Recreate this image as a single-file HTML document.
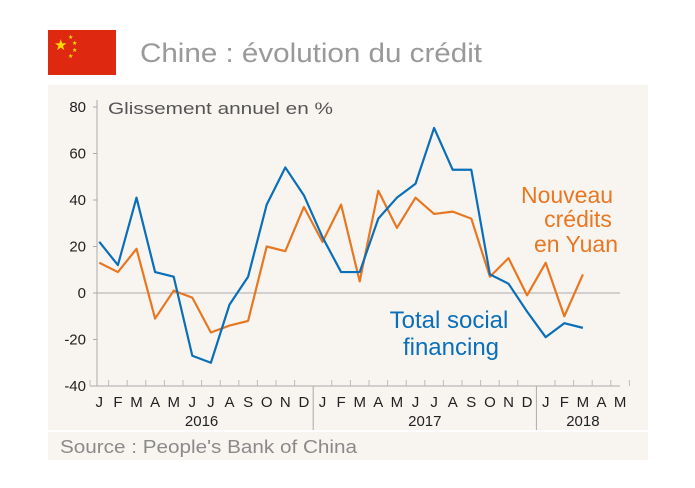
<!DOCTYPE html>
<html><head><meta charset="utf-8"><style>
body{margin:0;background:#fff;width:695px;height:483px;overflow:hidden;font-family:"Liberation Sans",sans-serif}
</style></head><body>
<svg width="695" height="483" xmlns="http://www.w3.org/2000/svg">
<g>
<rect x="48" y="30" width="68" height="45" fill="#de2910"/>
<text x="54" y="50" font-size="15" fill="#ffde00">★</text>
<text x="68" y="39" font-size="6" fill="#ffde00">★</text>
<text x="72" y="45" font-size="6" fill="#ffde00">★</text>
<text x="72" y="52" font-size="6" fill="#ffde00">★</text>
<text x="68" y="58" font-size="6" fill="#ffde00">★</text>
</g>
<text x="140" y="62" font-size="27" fill="#999" textLength="342" lengthAdjust="spacingAndGlyphs">Chine : évolution du crédit</text>
<rect x="48" y="85" width="600" height="375" fill="#f8f5f1"/>
<line x1="48" y1="431" x2="648" y2="431" stroke="#fff" stroke-width="2"/>
<text x="60" y="453" font-size="18" fill="#8a8a8a" textLength="297" lengthAdjust="spacingAndGlyphs">Source : People's Bank of China</text>
<text x="108" y="114" font-size="17" fill="#555" textLength="225" lengthAdjust="spacingAndGlyphs">Glissement annuel en %</text>
<g id="axes"></g>
<g id="series"></g>
<text font-size="23" fill="#e87722" text-anchor="middle"><tspan x="567" y="203">Nouveau</tspan><tspan x="578" y="227">crédits</tspan><tspan x="576" y="252">en Yuan</tspan></text>
<text font-size="24" fill="#0a6fb8" text-anchor="middle"><tspan x="449" y="328">Total social</tspan><tspan x="451" y="355">financing</tspan></text>
</svg>
<script>
const months=["J","F","M","A","M","J","J","A","S","O","N","D","J","F","M","A","M","J","J","A","S","O","N","D","J","F","M","A","M"];
const years=["2016","2017","2018"];
const yTicks=[80,60,40,20,0,-20,-40];
const tsf=[22,12,41,9,7,-27,-30,-5,7,38,54,42,24,9,9,32,41,47,71,53,53,8,4,-8,-19,-13,-15];
const credits=[13,9,19,-11,1,-2,-17,-14,-12,20,18,37,22,38,5,44,28,41,34,35,32,7,15,-1,13,-10,8];
const NS="http://www.w3.org/2000/svg";
const X0=90,MW=18.6;
const x=i=>X0+MW*(i+0.5);
const y=v=>293-v*2.325;
function mk(t,a,p){const e=document.createElementNS(NS,t);for(const k in a)e.setAttribute(k,a[k]);(p||document.getElementById('axes')).appendChild(e);return e;}
let e=mk('line',{x1:97,y1:100,x2:97,y2:386,stroke:'#aaa'});


e=mk('line',{x1:97,y1:y(0),x2:620,y2:y(0),stroke:'#aaa'});


e=mk('line',{x1:90,y1:386,x2:620,y2:386,stroke:'#aaa'});


yTicks.forEach(v=>{
 const t=mk('text',{x:86,y:y(v)+5,'font-size':15,'text-anchor':'end',fill:'#222'});t.textContent=v;
 
 
 mk('line',{x1:93,y1:y(v),x2:97,y2:y(v),stroke:'#aaa'});
});
months.forEach((m,i)=>{
 const t=mk('text',{x:x(i),y:407,'font-size':15,'text-anchor':'middle',fill:'#222'});t.textContent=m;
 
 
 const bx=X0+MW*i;
 if(i%12==0&&i>0) mk('line',{x1:bx,y1:386,x2:bx,y2:430,stroke:'#aaa'});
 else mk('line',{x1:bx,y1:380,x2:bx,y2:386,stroke:'#bbb'});
});
mk('line',{x1:X0+MW*29,y1:380,x2:X0+MW*29,y2:386,stroke:'#bbb'});
[[0,12],[12,24],[24,29]].forEach((r,k)=>{
 const t=mk('text',{x:X0+MW*(r[0]+r[1])/2,y:426,'font-size':15,'text-anchor':'middle',fill:'#222'});t.textContent=years[k];
 
 
});
const sg=document.getElementById('series');
function line(d,c,n){const p=mk('polyline',{points:d.map((v,i)=>x(i)+','+y(v)).join(' '),fill:'none',stroke:c,'stroke-width':2.2,'stroke-linejoin':'round'},sg);
 
 }
line(credits,'#e87722','credits-line');
line(tsf,'#0a6fb8','tsf-line');
</script>
</body></html>
